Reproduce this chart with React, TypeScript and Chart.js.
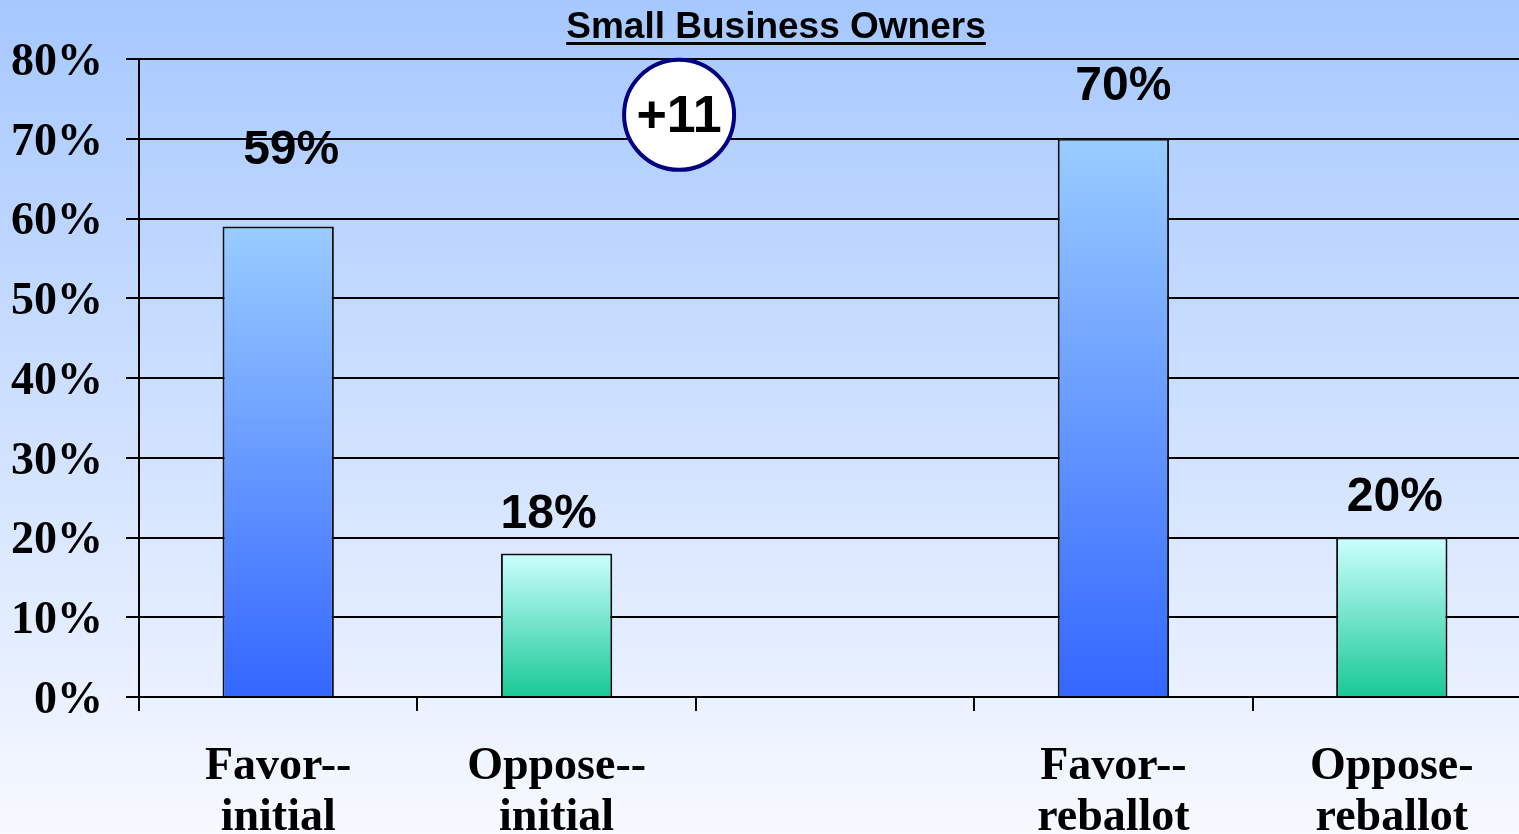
import React, { useEffect, useRef } from "react";
import { Chart, registerables } from "chart.js";

Chart.register(...registerables);

const categories: (string | string[])[] = [
  ["Favor--", "initial"],
  ["Oppose--", "initial"],
  "",
  ["Favor--", "reballot"],
  ["Oppose-", "reballot"],
];
const values: (number | null)[] = [59, 18, null, 70, 20];
const barKinds: string[] = ["favor", "oppose", "", "favor", "oppose"];
const valueLabels: string[] = ["59%", "18%", "", "70%", "20%"];
const labelDx: number[] = [13, -8, 0, 10, 3];
const labelDy: number[] = [76, 39, 0, 52, 40];
const yTickValues: number[] = [0, 10, 20, 30, 40, 50, 60, 70, 80];
const titleText = "Small Business Owners";
const badgeText = "+11";
const badgeX = 1.44; // category position
const badgeY = 73; // percent

const W = 1531;
const H = 834;

export default function App() {
  const ref = useRef<HTMLCanvasElement | null>(null);

  useEffect(() => {
    const canvas = ref.current!;
    document.body.style.margin = "0";

    const bgPlugin = {
      id: "bg",
      beforeDraw(chart: any) {
        const { ctx } = chart;
        const g = ctx.createLinearGradient(0, 0, 0, H);
        g.addColorStop(0, "#a6c8ff");
        g.addColorStop(1, "#f7f9ff");
        ctx.save();
        ctx.fillStyle = g;
        ctx.fillRect(0, 0, chart.width, chart.height);
        ctx.restore();
      },
    };

    const overlayPlugin = {
      id: "overlay",
      afterDraw(chart: any) {
        const { ctx, scales } = chart;
        ctx.save();
        const meta = chart.getDatasetMeta(0);
        ctx.font = "bold 48px 'Liberation Sans', Arial, sans-serif";
        ctx.fillStyle = "#000";
        ctx.textAlign = "center";
        ctx.textBaseline = "middle";
        meta.data.forEach((bar: any, i: number) => {
          if (values[i] == null) return;
          ctx.fillText(valueLabels[i], bar.x + labelDx[i], bar.y - labelDy[i]);
        });
        ctx.font = "bold 37px 'Liberation Sans', Arial, sans-serif";
        ctx.textBaseline = "alphabetic";
        const tx = 776;
        ctx.fillText(titleText, tx, 38);
        const tw = ctx.measureText(titleText).width;
        ctx.fillRect(tx - tw / 2, 42, tw, 3);
        const bx = scales.x.getPixelForValue(badgeX);
        const by = scales.y.getPixelForValue(badgeY);
        ctx.beginPath();
        ctx.arc(bx, by, 55, 0, Math.PI * 2);
        ctx.fillStyle = "#fff";
        ctx.fill();
        ctx.lineWidth = 4;
        ctx.strokeStyle = "#000080";
        ctx.stroke();
        ctx.fillStyle = "#000";
        ctx.font = "bold 52px 'Liberation Sans', Arial, sans-serif";
        ctx.textBaseline = "middle";
        ctx.fillText(badgeText, bx, by + 3);
        ctx.restore();
      },
    };

    const fillFor = (c: any) => {
      const chart = c.chart;
      const i = c.dataIndex;
      const kind = barKinds[i];
      const top = kind === "favor" ? "#99ccff" : "#ccffff";
      const bottom = kind === "favor" ? "#3366ff" : "#18c995";
      const y = chart.scales && chart.scales.y;
      if (!y || values[i] == null) return bottom;
      const yt = y.getPixelForValue(values[i] as number);
      const yb = y.getPixelForValue(0);
      if (!isFinite(yt) || !isFinite(yb) || yt === yb) return bottom;
      const g = chart.ctx.createLinearGradient(0, yt, 0, yb);
      g.addColorStop(0, top);
      g.addColorStop(1, bottom);
      return g;
    };

    const chart = new Chart(canvas, {
      type: "bar",
      data: {
        labels: categories,
        datasets: [
          {
            data: values,
            backgroundColor: fillFor,
            borderColor: "#111",
            borderWidth: 2,
            barPercentage: 0.4,
            categoryPercentage: 1,
          },
        ],
      },
      options: {
        responsive: false,
        animation: false,
        devicePixelRatio: 1,
        layout: { padding: { top: 59, left: 0, right: 0, bottom: 0 } },
        plugins: {
          legend: { display: false },
          title: { display: false },
          tooltip: { enabled: false },
        },
        scales: {
          x: {
            afterFit(s: any) {
              s.height = 137;
            },
            grid: {
              offset: true,
              drawOnChartArea: false,
              drawTicks: true,
              tickLength: 14,
              color: "#000",
              lineWidth: 2,
            },
            border: { display: true, color: "#000", width: 2 },
            ticks: {
              color: "#000",
              padding: 31,
              maxRotation: 0,
              autoSkip: false,
              font: {
                family: "'Liberation Serif', 'Times New Roman', serif",
                size: 46,
                weight: "bold",
                lineHeight: 1.1,
              },
            },
          },
          y: {
            min: 0,
            max: 80,
            afterFit(s: any) {
              s.width = 139;
            },
            afterBuildTicks(s: any) {
              s.ticks = yTickValues.map((v) => ({ value: v }));
            },
            grid: {
              color: "#000",
              lineWidth: 2,
              tickLength: 13,
              drawTicks: true,
            },
            border: { display: true, color: "#000", width: 2 },
            ticks: {
              color: "#000",
              padding: 23,
              labelOffset: 4,
              callback: (v: any) => v + "%",
              font: {
                family: "'Liberation Serif', 'Times New Roman', serif",
                size: 46,
                weight: "bold",
              },
            },
          },
        },
      },
      plugins: [bgPlugin, overlayPlugin],
    });
    return () => chart.destroy();
  }, []);

  return (
    <div
      style={{
        position: "fixed",
        left: 0,
        top: 0,
        width: 1519,
        height: 834,
        overflow: "hidden",
      }}
    >
      <canvas ref={ref} width={W} height={H} style={{ width: W, height: H, display: "block" }} />
    </div>
  );
}
